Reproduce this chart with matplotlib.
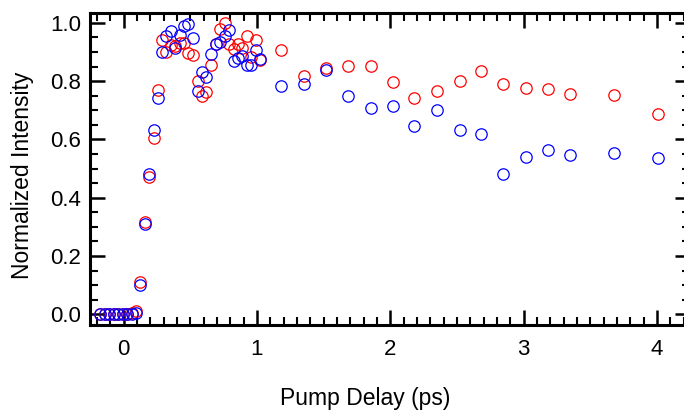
import matplotlib
matplotlib.use("Agg")
import matplotlib.pyplot as plt
from matplotlib.ticker import MultipleLocator, FormatStrFormatter

# ── Data ──────────────────────────────────────────────────────────────────────
delay = [-0.173, -0.14, -0.106, -0.073, -0.04, -0.006, 0.027, 0.06, 0.094,
         0.127, 0.16, 0.193, 0.225, 0.257, 0.29, 0.322, 0.355, 0.388, 0.42,
         0.453, 0.487, 0.52, 0.555, 0.59, 0.622, 0.658, 0.692, 0.725, 0.758,
         0.79, 0.825, 0.858, 0.89, 0.925, 0.958, 0.992, 1.025,
         1.183, 1.353, 1.52, 1.685, 1.852, 2.017, 2.18, 2.352, 2.52, 2.682,
         2.848, 3.015, 3.18, 3.347, 3.678, 4.01]

red = [0.0, 0.0, 0.0, 0.0, 0.0, 0.0, 0.0, 0.003, 0.01,
       0.112, 0.317, 0.47, 0.605, 0.77, 0.94, 0.9, 0.925, 0.92, 0.93,
       0.93, 0.897, 0.89, 0.802, 0.75, 0.762, 0.855, 0.927, 0.98, 1.0,
       0.927, 0.91, 0.927, 0.913, 0.955, 0.882, 0.942, 0.872,
       0.906, 0.817, 0.846, 0.851, 0.851, 0.798, 0.743, 0.767, 0.801, 0.835,
       0.792, 0.778, 0.774, 0.757, 0.753, 0.687]

blue = [0.0, 0.0, 0.0, 0.0, 0.0, 0.0, 0.0, 0.0, 0.003,
        0.1, 0.31, 0.482, 0.632, 0.742, 0.899, 0.954, 0.973, 0.913, 0.958,
        0.99, 0.997, 0.947, 0.765, 0.83, 0.813, 0.893, 0.927, 0.935, 0.956,
        0.976, 0.87, 0.878, 0.888, 0.855, 0.855, 0.908, 0.875,
        0.785, 0.789, 0.837, 0.75, 0.708, 0.715, 0.645, 0.702, 0.634, 0.617,
        0.481, 0.538, 0.563, 0.548, 0.555, 0.535]

plt.rcParams["font.family"] = ["Liberation Sans", "DejaVu Sans"]

# ── Figure ────────────────────────────────────────────────────────────────────
fig = plt.figure(figsize=(6.84, 4.11), dpi=100)
# right spine sits just past the image edge, as in the original
ax = fig.add_axes([89.5 / 684, 86 / 411, (690 - 89.5) / 684, (325 - 13.3) / 411])

ax.plot(delay, red, "o", mfc="none", mec="#ff0000", mew=0.9, ms=8.2, clip_on=False)
ax.plot(delay, blue, "o", mfc="none", mec="#0000ff", mew=0.9, ms=8.2, clip_on=False)

ax.set_xlim(-0.255, 4.247)
ax.set_ylim(-0.037, 1.033)

ax.xaxis.set_major_locator(MultipleLocator(1))
ax.xaxis.set_minor_locator(MultipleLocator(0.1))
ax.yaxis.set_major_locator(MultipleLocator(0.2))
ax.yaxis.set_minor_locator(MultipleLocator(0.05))
ax.yaxis.set_major_formatter(FormatStrFormatter("%.1f"))

for s in ax.spines.values():
    s.set_linewidth(2.2)

ax.tick_params(which="both", direction="in", top=True, right=True,
               labelsize=16, color="black")
ax.tick_params(which="major", length=11, width=1.8)
ax.tick_params(which="minor", length=6, width=1.5)
ax.tick_params(axis="x", pad=10)
ax.tick_params(axis="y", pad=6)

ax.set_xlabel("Pump Delay (ps)", fontsize=16.5)
ax.set_ylabel("Normalized Intensity", fontsize=16.5)
ax.xaxis.set_label_coords((365 - 89.5) / (690 - 89.5), -0.2)
ax.yaxis.set_label_coords(-0.093, 0.481)

fig.savefig("out.png", dpi=100)
